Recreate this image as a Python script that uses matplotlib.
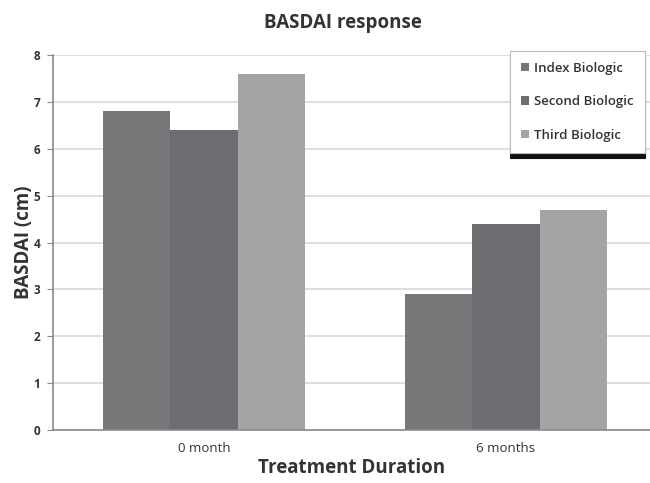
import matplotlib.pyplot as plt
import numpy as np

plt.rcParams['font.family'] = ['Open Sans', 'DejaVu Sans']

# data
categories = ['0 month', '6 months']
series = ['Index Biologic', 'Second Biologic', 'Third Biologic']
index_vals = [6.8, 2.9]
second_vals = [6.4, 4.4]
third_vals = [7.6, 4.7]
colors = ['#77777a', '#6c6d70', '#a4a4a7']

fig = plt.figure(figsize=(6.5, 4.83), dpi=100)
ax = fig.add_axes([53/650, 1-430/483, 1-53/650, (430-55)/483])

x = np.arange(len(categories))
w = 0.222
for i, (vals, lab) in enumerate(zip([index_vals, second_vals, third_vals], series)):
    ax.bar(x + (i-1)*w, vals, width=w, color=colors[i], label=lab, zorder=2)

ax.set_xlim(-0.5, 1.5 - 7/302)
ax.set_ylim(0, 8)
ax.set_yticks(range(0, 9))
ax.yaxis.grid(True, color='#d8d8d8', linewidth=1.2, zorder=0)
ax.set_axisbelow(True)
for s in ['top', 'right']:
    ax.spines[s].set_visible(False)
for s in ['left', 'bottom']:
    ax.spines[s].set_color('#8a8a8a')
    ax.spines[s].set_linewidth(1.2)
ax.set_xticks(x)
ax.set_xticklabels(categories)
ax.tick_params(axis='x', length=0, pad=9, labelsize=9.5, labelcolor='#333333')
ax.tick_params(axis='y', length=4, color='#8a8a8a', pad=5, labelsize=8.5, labelcolor='#333333')
for t in ax.get_yticklabels():
    t.set_fontweight('bold')

ax.set_ylabel('BASDAI (cm)', fontsize=13.5, fontweight='bold', color='#333333', labelpad=0)
ax.set_xlabel('Treatment Duration', fontsize=13.5, fontweight='bold', color='#333333', labelpad=2)
fig.text(0.527, 0.953, 'BASDAI response', ha='center', va='center',
         fontsize=13.5, fontweight='bold', color='#333333')

leg = ax.legend(loc='upper left', bbox_to_anchor=(0.765, 1.012), fontsize=9.5,
                frameon=True, fancybox=False, handlelength=0.6, handleheight=0.6,
                labelspacing=1.55, borderpad=0.85, handletextpad=0.4, borderaxespad=0,
                shadow={'color': '#111111', 'alpha': 1.0, 'ox': 0, 'oy': -4})
leg.get_frame().set_edgecolor('#bbbbbb')
leg.get_frame().set_linewidth(0.8)
for t in leg.get_texts():
    t.set_color('#333333')
    t.set_fontweight('semibold')

fig.savefig('out.png', dpi=100)
